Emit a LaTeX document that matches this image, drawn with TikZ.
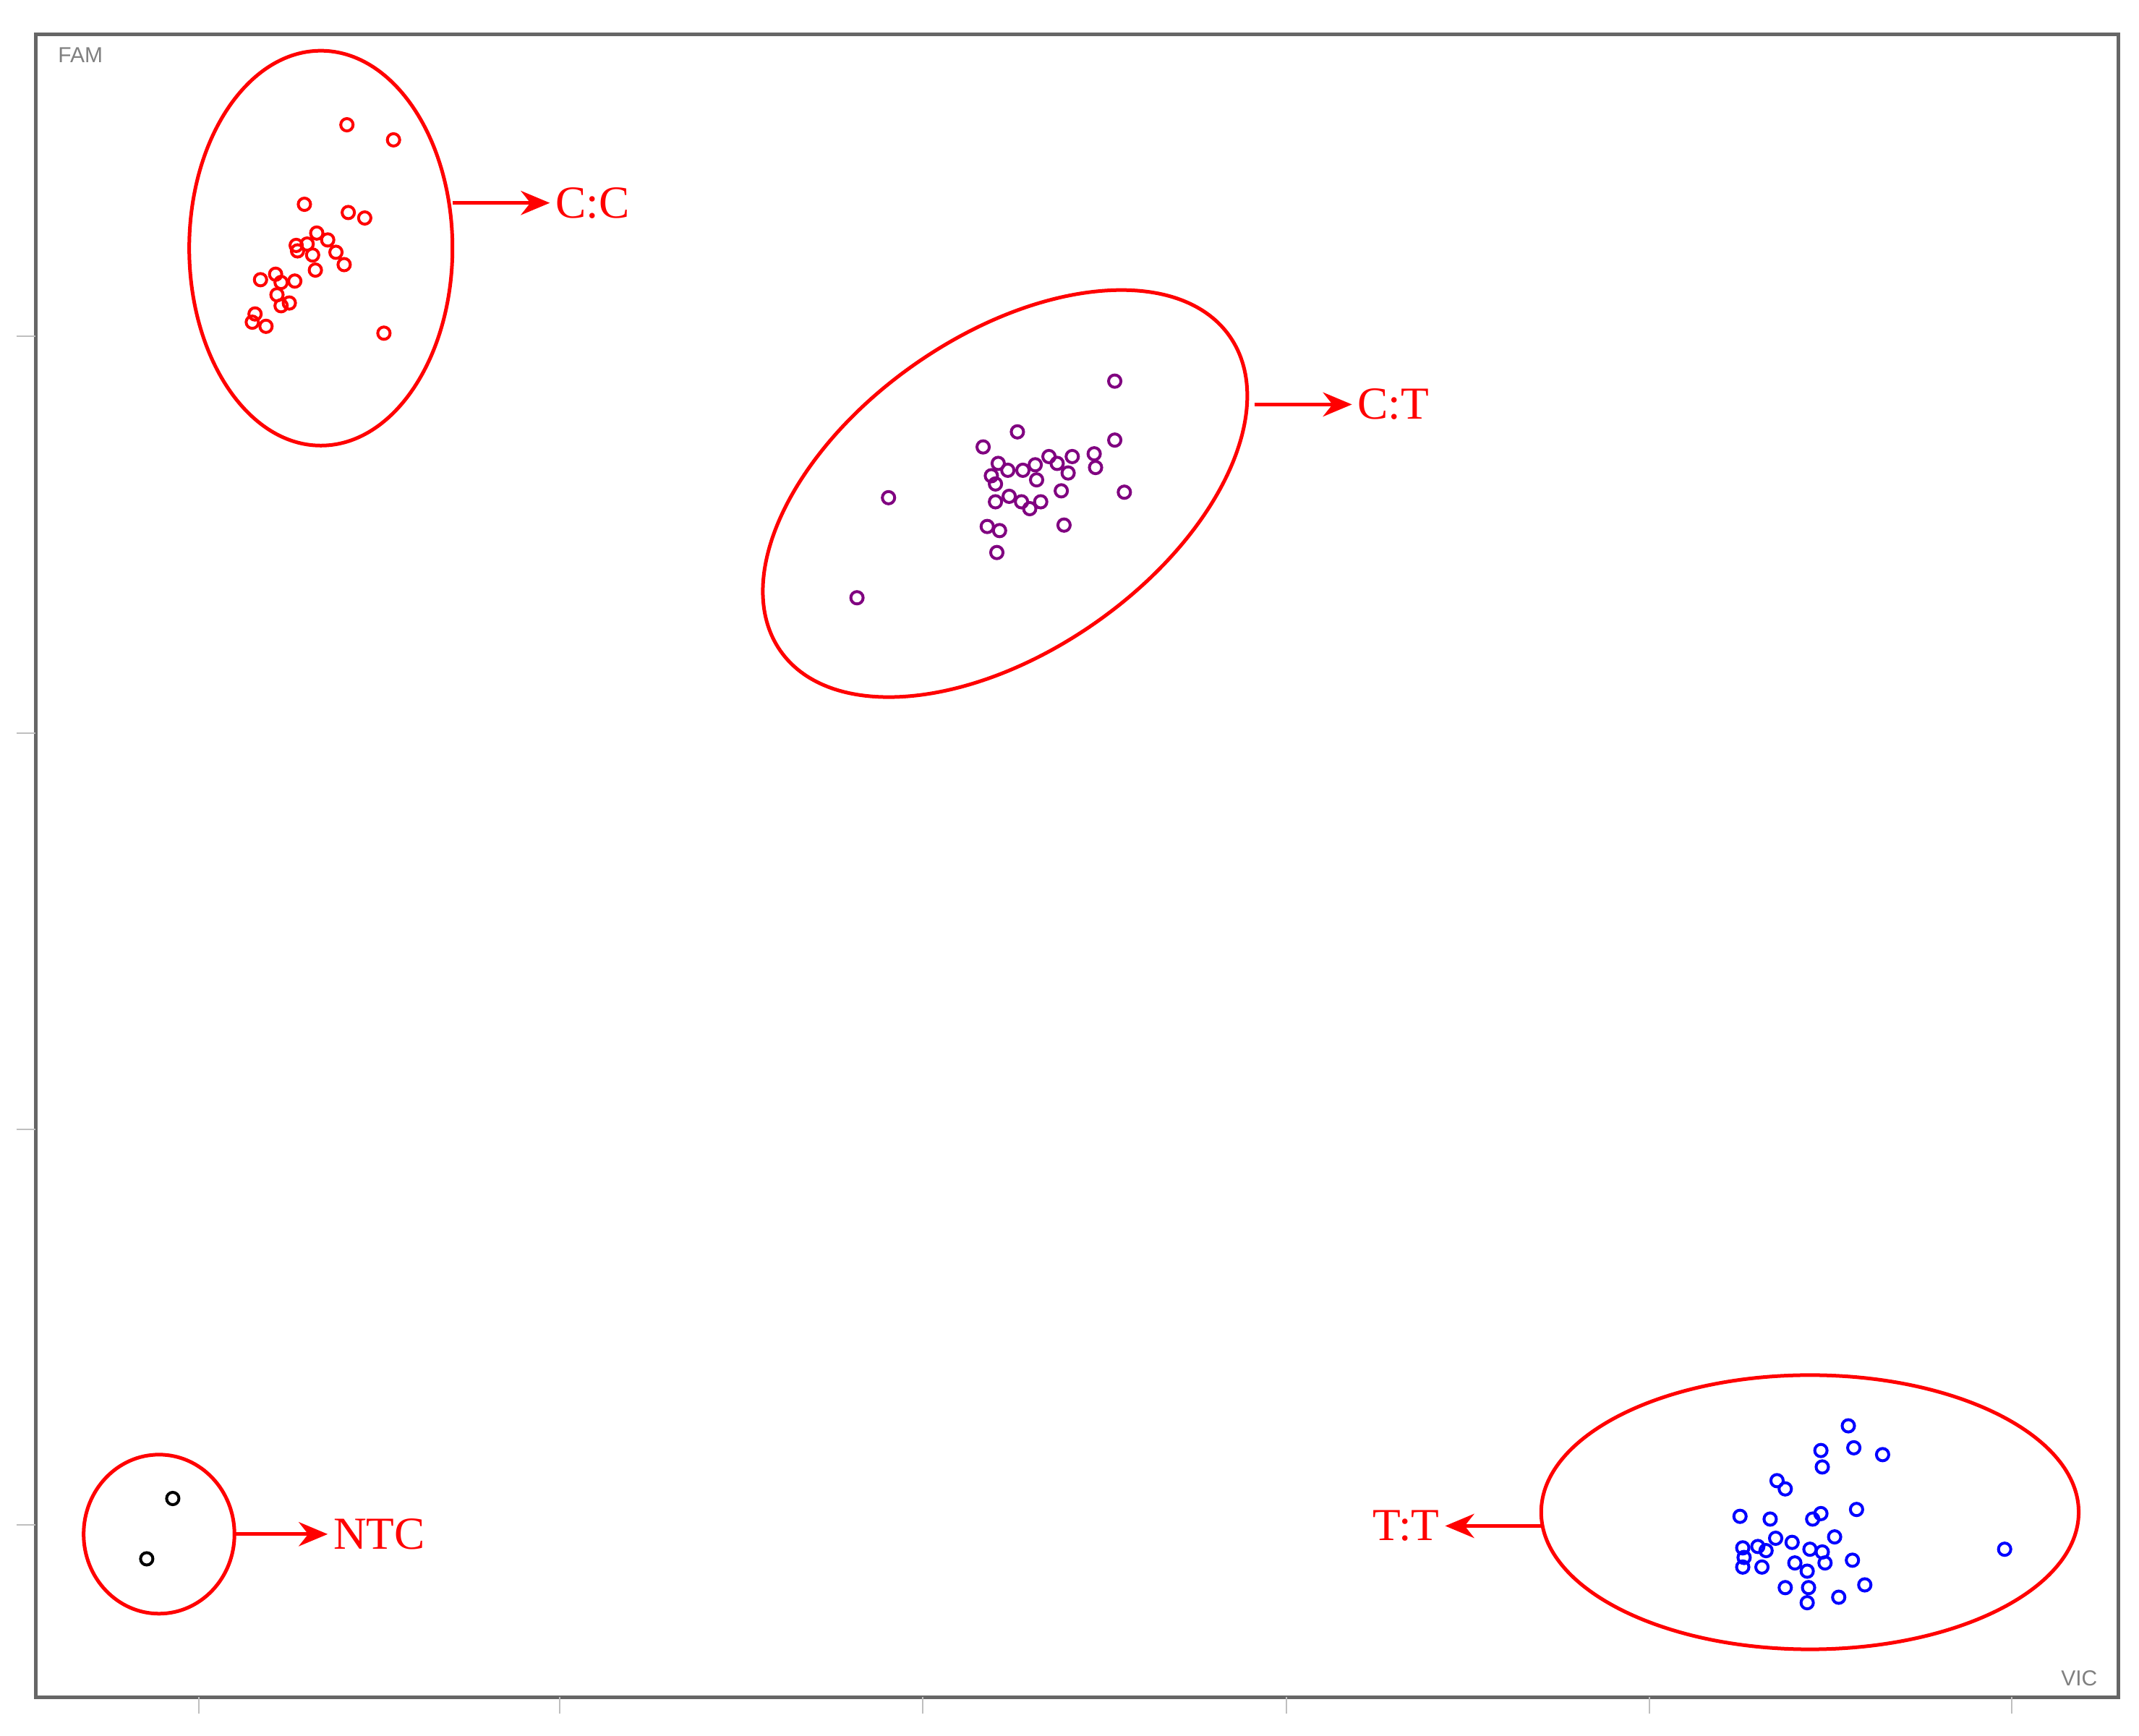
\documentclass[tikz,border=0pt]{standalone}
\usepackage{fontspec}
\setmainfont{Liberation Serif}
\setsansfont{Liberation Sans}
\usetikzlibrary{arrows.meta}
\definecolor{pur}{RGB}{128,0,128}
\tikzset{
  clus/.style={red,line width=0.75pt},
  arr/.style={red,line width=0.75pt,-{Stealth[length=6pt,width=5pt]}},
  lab/.style={red,font=\fontsize{9.5}{10}\selectfont},
  pt/.style={line width=0.6pt},
  tick/.style={gray!50,line width=0.3pt}
}
\begin{document}
\begin{tikzpicture}[x=0.01cm,y=-0.01cm]
\useasboundingbox (0,0) rectangle (1560,1266);
\fill[white] (0,0) rectangle (1560,1266);
\draw[gray!80!black,line width=0.7pt] (26,25) rectangle (1545,1238);
\foreach \x in {145,408,673,938,1203,1467} \draw[tick] (\x,1238) -- (\x,1250);
\foreach \y in {245,535,824,1112} \draw[tick] (12,\y) -- (26,\y);
\node[gray,font=\sffamily\fontsize{4.5}{5}\selectfont,anchor=west] (fam) at (30,40) {FAM};
\node[gray,font=\sffamily\fontsize{4.5}{5}\selectfont,anchor=east] (vic) at (1542,1224) {VIC};
% clusters
\draw[clus] (234,181) ellipse [x radius=96,y radius=144];
\draw[clus,rotate around={35:(733,360)}] (733,360) ellipse [x radius=200,y radius=115];
\draw[clus] (116,1119) ellipse [x radius=55,y radius=58];
\draw[clus] (1320,1103) ellipse [x radius=196,y radius=100];
% arrows and labels
\coordinate (cc0) at (330,148); \node[lab,anchor=west,inner sep=1pt] (cc) at (401,148) {C:C};
\draw[arr] (cc0) -- (cc.west);
\coordinate (ct0) at (915,295); \node[lab,anchor=west,inner sep=1pt] (ct) at (986,295) {C:T};
\draw[arr] (ct0) -- (ct.west);
\coordinate (nt0) at (171,1119); \node[lab,anchor=west,inner sep=1pt] (ntc) at (239,1119) {NTC};
\draw[arr] (nt0) -- (ntc.west);
\coordinate (tt0) at (1124,1113); \node[lab,anchor=east,inner sep=1pt] (tt) at (1054,1113) {T:T};
\draw[arr] (tt0) -- (tt.east);
% points
\foreach \p in {(253,91),(287,102),(222,149),(254,155),(266,159),(231,170),(239,175),(216,179),(224,178),(217,183),(228,186),(245,184),(251,193),(230,197),(190,204),(201,200),(205,206),(215,205),(202,215),(211,221),(205,223),(186,229),(184,235),(194,238),(280,243)}
  \draw[pt,red] \p circle[radius=4.5];
\foreach \p in {(813,278),(742,315),(717,326),(813,321),(728,338),(735,343),(746,343),(755,339),(765,333),(782,333),(771,338),(798,331),(799,341),(779,345),(723,347),(726,353),(756,350),(648,363),(736,362),(745,366),(726,366),(759,366),(751,371),(774,358),(820,359),(720,384),(729,387),(776,383),(727,403),(625,436)}
  \draw[pt,pur] \p circle[radius=4.5];
\foreach \p in {(1348,1040),(1328,1058),(1352,1056),(1373,1061),(1329,1070),(1296,1080),(1302,1086),(1269,1106),(1291,1108),(1322,1108),(1328,1104),(1354,1101),(1338,1121),(1307,1125),(1295,1122),(1282,1128),(1271,1129),(1272,1136),(1271,1143),(1285,1143),(1288,1131),(1309,1140),(1320,1130),(1329,1132),(1331,1140),(1351,1138),(1318,1146),(1302,1158),(1319,1158),(1318,1169),(1341,1165),(1360,1156),(1462,1130)}
  \draw[pt,blue] \p circle[radius=4.5];
\foreach \p in {(126,1093),(107,1137)}
  \draw[pt,black] \p circle[radius=4.5];
\end{tikzpicture}
\end{document}
